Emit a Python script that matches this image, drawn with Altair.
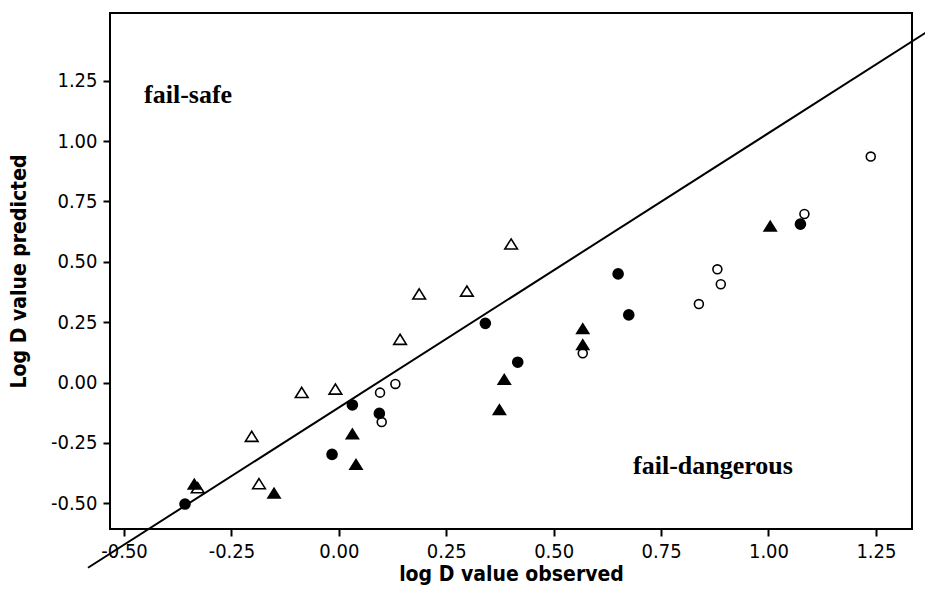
import altair as alt
import pandas as pd

# ---- data ----
open_tri_x = [0.401, 0.187, 0.298, 0.1425, -0.008, -0.0864, -0.2028, -0.1858, -0.3285]
open_tri_y = [0.574, 0.367, 0.379, 0.179, -0.027, -0.041, -0.223, -0.419, -0.436]

fill_tri_x = [-0.3364, -0.1508, 0.0315, 0.040, 0.3737, 0.385, 0.5677, 0.5677, 1.004]
fill_tri_y = [-0.419, -0.457, -0.211, -0.338, -0.111, 0.0145, 0.2246, 0.158, 0.650]

open_cir_x = [1.238, 1.0836, 0.881, 0.889, 0.838, 0.5677, 0.1316, 0.0959, 0.0998]
open_cir_y = [0.936, 0.698, 0.469, 0.407, 0.325, 0.121, -0.006, -0.042, -0.164]

fill_cir_x = [-0.358, -0.0158, 0.0315, 0.0943, 0.341, 0.4164, 0.6748, 0.650, 1.0743]
fill_cir_y = [-0.5035, -0.298, -0.093, -0.128, 0.245, 0.084, 0.280, 0.450, 0.656]

line_x = [-0.5838, 1.383]
line_y = [-0.7675, 1.469]

ann_text = ["fail-safe", "fail-dangerous"]
ann_x = [-0.4534, 0.6848]
ann_y = [1.158, -0.380]

tick_values = [-0.50, -0.25, 0.00, 0.25, 0.50, 0.75, 1.00, 1.25]
x_domain = [-0.5326, 1.334]
y_domain = [-0.607, 1.531]

TRI = "M0,-0.8L1,0.8L-1,0.8Z"
TICK_FONT = "DejaVu Sans Condensed, DejaVu Sans"
label_expr = "replace(format(datum.value, '.2f'), '\u2212', '-')"

xs = alt.Scale(domain=x_domain, nice=False, zero=False)
ys = alt.Scale(domain=y_domain, nice=False, zero=False)

x_axis = alt.Axis(
    values=tick_values, labelExpr=label_expr, grid=False, domain=False,
    tickSize=7, tickWidth=2, tickColor="black", labelPadding=5,
    labelFont=TICK_FONT, labelFontSize=20, labelColor="black",
    title="log D value observed", titleFont=TICK_FONT, titleFontSize=21,
    titleFontWeight="bold", titleColor="black",
    titleX=401, titleY=51, titleAlign="center", titleBaseline="alphabetic",
)
y_axis = alt.Axis(
    values=tick_values, labelExpr=label_expr, grid=False, domain=False,
    tickSize=7, tickWidth=2, tickColor="black", labelPadding=6,
    labelFont=TICK_FONT, labelFontSize=20, labelColor="black",
    title="Log D value predicted", titleFont=TICK_FONT, titleFontSize=21,
    titleFontWeight="bold", titleColor="black",
    titleX=-91, titleY=258, titleAngle=270, titleAlign="center",
    titleBaseline="middle",
)


def pts(xv, yv, name):
    return pd.DataFrame({"x": xv, "y": yv, "series": name})


base_x = alt.X("x:Q", scale=xs, axis=x_axis)
base_y = alt.Y("y:Q", scale=ys, axis=y_axis)

line = alt.Chart(pd.DataFrame({"x": line_x, "y": line_y})).mark_line(
    color="black", strokeWidth=2, clip=False
).encode(x=base_x, y=base_y)

open_tri = alt.Chart(pts(open_tri_x, open_tri_y, "open triangle")).mark_point(
    shape=TRI, size=160, filled=False, stroke="black", strokeWidth=1.6, opacity=1
).encode(x="x:Q", y="y:Q")

open_cir = alt.Chart(pts(open_cir_x, open_cir_y, "open circle")).mark_point(
    shape="circle", size=80, filled=False, stroke="black", strokeWidth=1.6, opacity=1
).encode(x="x:Q", y="y:Q")

fill_tri = alt.Chart(pts(fill_tri_x, fill_tri_y, "filled triangle")).mark_point(
    shape=TRI, size=225, filled=True, fill="black", opacity=1
).encode(x="x:Q", y="y:Q")

fill_cir = alt.Chart(pts(fill_cir_x, fill_cir_y, "filled circle")).mark_point(
    shape="circle", size=135, filled=True, fill="black", opacity=1
).encode(x="x:Q", y="y:Q")

ann = alt.Chart(pd.DataFrame({"x": ann_x, "y": ann_y, "t": ann_text})).mark_text(
    font="Liberation Serif", fontSize=26, fontWeight="bold", color="black",
    align="left", baseline="alphabetic"
).encode(x="x:Q", y="y:Q", text="t:N")

chart = alt.layer(line, open_tri, open_cir, fill_tri, fill_cir, ann).properties(
    width=802, height=516,
    autosize=alt.AutoSizeParams(type="none"),
    padding={"left": 102, "top": 5, "right": 13, "bottom": 57},
    background="white",
).configure_view(stroke="black", strokeWidth=2)

chart.save("out.html", embed_options={"renderer": "svg", "actions": False})
